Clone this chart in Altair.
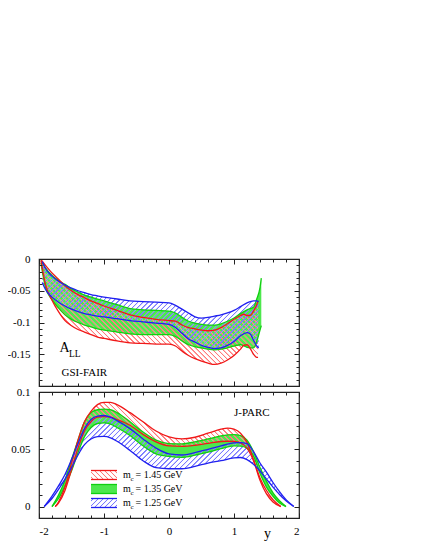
import math
import altair as alt
import pandas as pd

# ---------------- data: upper panel (GSI-FAIR), A_LL < 0 ----------------
top_red_x = [-1.97, -1.9, -1.8, -1.7, -1.6, -1.5, -1.4, -1.3, -1.2, -1.1, -1.0, -0.8, -0.6, -0.4, -0.2, 0.0,
             0.1, 0.2, 0.3, 0.4, 0.5, 0.6, 0.7, 0.8, 0.9, 1.0, 1.1, 1.15, 1.2, 1.25, 1.3, 1.35, 1.37]
top_red_hi = [-0.001, -0.010, -0.022, -0.032, -0.042, -0.050, -0.056, -0.061, -0.066, -0.070, -0.074, -0.081,
              -0.088, -0.092, -0.095, -0.097, -0.098, -0.104, -0.108, -0.110, -0.112, -0.113, -0.112, -0.108,
              -0.102, -0.095, -0.089, -0.087, -0.089, -0.089, -0.082, -0.072, -0.066]
top_red_lo = [-0.003, -0.040, -0.065, -0.083, -0.097, -0.105, -0.111, -0.115, -0.119, -0.123, -0.125, -0.129,
              -0.132, -0.133, -0.134, -0.134, -0.137, -0.145, -0.152, -0.157, -0.161, -0.164, -0.166, -0.164,
              -0.159, -0.152, -0.142, -0.136, -0.135, -0.141, -0.150, -0.155, -0.155]

top_green_x = [-1.97, -1.9, -1.8, -1.7, -1.6, -1.5, -1.4, -1.3, -1.2, -1.1, -1.0, -0.8, -0.6, -0.4, -0.2, 0.0,
               0.1, 0.2, 0.3, 0.4, 0.5, 0.6, 0.7, 0.8, 0.9, 1.0, 1.1, 1.2, 1.3, 1.35, 1.4, 1.42]
top_green_hi = [-0.002, -0.014, -0.026, -0.034, -0.040, -0.047, -0.052, -0.057, -0.060, -0.063, -0.066, -0.072,
                -0.078, -0.080, -0.081, -0.082, -0.085, -0.092, -0.098, -0.101, -0.103, -0.104, -0.104, -0.102,
                -0.098, -0.093, -0.086, -0.080, -0.076, -0.063, -0.045, -0.030]
top_green_lo = [-0.006, -0.045, -0.064, -0.077, -0.088, -0.095, -0.100, -0.104, -0.107, -0.110, -0.112, -0.115,
                -0.118, -0.119, -0.119, -0.119, -0.122, -0.129, -0.135, -0.138, -0.140, -0.142, -0.143, -0.142,
                -0.140, -0.137, -0.135, -0.139, -0.140, -0.130, -0.112, -0.105]

top_blue_x = [-1.95, -1.9, -1.8, -1.7, -1.6, -1.5, -1.4, -1.3, -1.2, -1.1, -1.0, -0.8, -0.6, -0.4, -0.2, 0.0,
              0.1, 0.2, 0.3, 0.4, 0.5, 0.6, 0.7, 0.8, 0.9, 1.0, 1.1, 1.2, 1.25, 1.3, 1.35, 1.38]
top_blue_hi = [-0.004, -0.015, -0.027, -0.035, -0.041, -0.046, -0.050, -0.053, -0.056, -0.058, -0.060, -0.063,
               -0.066, -0.067, -0.068, -0.069, -0.073, -0.079, -0.085, -0.091, -0.093, -0.092, -0.090, -0.088,
               -0.085, -0.081, -0.075, -0.069, -0.067, -0.066, -0.066, -0.067]
top_blue_lo = [-0.037, -0.048, -0.060, -0.068, -0.074, -0.079, -0.083, -0.086, -0.088, -0.090, -0.091, -0.094,
               -0.097, -0.099, -0.101, -0.103, -0.108, -0.117, -0.126, -0.131, -0.136, -0.139, -0.141, -0.140,
               -0.136, -0.130, -0.121, -0.116, -0.118, -0.128, -0.137, -0.140]

# ---------------- data: lower panel (J-PARC), A_LL > 0 ----------------
bot_red_x = [-1.75, -1.7, -1.6, -1.5, -1.4, -1.3, -1.2, -1.1, -1.0, -0.9, -0.8, -0.6, -0.4, -0.2, 0.0, 0.2,
             0.4, 0.6, 0.8, 0.9, 1.0, 1.1, 1.2, 1.3, 1.4, 1.5, 1.6, 1.72]
bot_red_hi = [0, 0.004, 0.017, 0.038, 0.058, 0.074, 0.083, 0.089, 0.091, 0.091, 0.089, 0.082, 0.074, 0.066,
              0.0608, 0.059, 0.0605, 0.064, 0.0675, 0.0684, 0.0675, 0.064, 0.056, 0.041, 0.025, 0.014, 0.006, 0]
bot_red_lo = [0, 0.003, 0.014, 0.032, 0.051, 0.066, 0.074, 0.078, 0.0785, 0.078, 0.076, 0.071, 0.063, 0.0565,
              0.053, 0.0526, 0.0535, 0.0552, 0.0568, 0.057, 0.0568, 0.0556, 0.051, 0.040, 0.023, 0.011, 0.004, 0]

bot_green_x = [-1.8, -1.7, -1.6, -1.5, -1.4, -1.3, -1.2, -1.1, -1.0, -0.9, -0.8, -0.6, -0.4, -0.2, 0.0, 0.2,
               0.4, 0.6, 0.8, 1.0, 1.1, 1.2, 1.3, 1.4, 1.5, 1.6, 1.7, 1.8]
bot_green_hi = [0, 0.010, 0.023, 0.041, 0.058, 0.074, 0.082, 0.0845, 0.085, 0.0845, 0.082, 0.074, 0.065, 0.058,
                0.055, 0.0547, 0.0565, 0.059, 0.0617, 0.0628, 0.062, 0.058, 0.048, 0.034, 0.022, 0.012, 0.005, 0]
bot_green_lo = [0, 0.007, 0.018, 0.031, 0.047, 0.061, 0.069, 0.0725, 0.073, 0.072, 0.069, 0.062, 0.053, 0.046,
                0.0438, 0.043, 0.0448, 0.0475, 0.0505, 0.053, 0.0528, 0.051, 0.044, 0.029, 0.017, 0.009, 0.003, 0]

bot_blue_x = [-1.92, -1.8, -1.7, -1.6, -1.5, -1.4, -1.3, -1.2, -1.1, -1.0, -0.9, -0.8, -0.6, -0.4, -0.2, 0.0,
              0.2, 0.4, 0.6, 0.8, 1.0, 1.1, 1.2, 1.3, 1.4, 1.5, 1.6, 1.7, 1.8, 1.92]
bot_blue_hi = [0, 0.009, 0.018, 0.028, 0.041, 0.055, 0.068, 0.076, 0.079, 0.0795, 0.078, 0.075, 0.068, 0.059,
               0.051, 0.046, 0.045, 0.047, 0.050, 0.053, 0.0555, 0.0558, 0.055, 0.048, 0.038, 0.030, 0.021, 0.013,
               0.006, 0]
bot_blue_lo = [0, 0.007, 0.015, 0.024, 0.034, 0.045, 0.054, 0.059, 0.061, 0.0612, 0.060, 0.057, 0.049, 0.040,
               0.034, 0.033, 0.033, 0.035, 0.038, 0.040, 0.0425, 0.0428, 0.041, 0.037, 0.031, 0.024, 0.017, 0.0105,
               0.005, 0]

# ---------------- ticks and texts ----------------
x_major = [-2, -1, 0, 1, 2]
x_minor = [round(-2 + 0.2 * i, 1) for i in range(21)]
top_y_major = [0, -0.05, -0.1, -0.15, -0.2]
top_y_labels = [0, -0.05, -0.1, -0.15]
top_y_minor = [round(-0.01 * i, 2) for i in range(21)]
bot_y_major = [0, 0.05, 0.1]
bot_y_labels = [0, 0.05, 0.1]
bot_y_minor = [round(-0.01 + 0.01 * i, 2) for i in range(12)]
legend_masses = ["1.45", "1.35", "1.25"]
x_title = "y"

# ---------------- layout / style ----------------
PLOT_W = 260
TOP_H = 127
BOT_H = 126
X_DOMAIN = [-2, 2]
TOP_DOMAIN = [-0.2, 0]
BOT_DOMAIN = [-0.01, 0.1]
SERIF = "Liberation Serif"
FRAME = "#222222"
RED = "#f01818"
BLUE = "#2020f0"
GREEN_LINE = "#10d010"
GREEN_FILL = "#3ee63e"
RED_HATCH = "#ff7a7a"
BLUE_HATCH = "#7a7aff"
LABEL_EXPR = "replace(format(datum.value, '~g'), '\u2212', '-')"


def hatch(color, w_px, h_px, forward, spacing=3.6, lw=0.7):
    """Diagonal stripe fill built as a linear gradient in bounding-box units."""
    d = (w_px + h_px) / math.sqrt(2)
    k = (w_px + h_px) / (w_px ** 2 + h_px ** 2)
    if forward:      # '/'
        x1, y1, x2, y2 = 0, 0, w_px * k, h_px * k
    else:            # '\'
        x1, y1, x2, y2 = 0, 1, w_px * k, 1 - h_px * k
    n = max(1, int(d / spacing))
    half = lw / d / 2
    soft = 0.5 / d
    clear = "rgba(255,255,255,0)"
    stops = []
    for i in range(n):
        o = (i + 0.5) / n
        pts = [(o - half - soft, clear), (o - half, color), (o + half, color), (o + half + soft, clear)]
        for off, c in pts:
            stops.append({"offset": round(min(1, max(0, off)), 5), "color": c})
    return {"gradient": "linear", "x1": round(x1, 5), "y1": round(y1, 5),
            "x2": round(x2, 5), "y2": round(y2, 5), "stops": stops}


def px_size(x, hi, lo, ydom, h):
    w = (max(x) - min(x)) / (X_DOMAIN[1] - X_DOMAIN[0]) * PLOT_W
    allv = list(hi) + list(lo)
    hh = (max(allv) - min(allv)) / (ydom[1] - ydom[0]) * h
    return w, hh


def x_axes(h, show_labels):
    common = dict(grid=False, domain=False, labels=False, title=None, tickColor=FRAME, tickWidth=1, zindex=1)
    if show_labels:
        lab = alt.Axis(orient="bottom", values=x_major, ticks=False, tickSize=0, domain=False, grid=False,
                       labelFont=SERIF, labelFontSize=11, labelColor="black", labelPadding=7,
                       labelExpr=LABEL_EXPR, title=x_title, titleFont=SERIF, titleFontSize=14,
                       titleFontWeight="normal", titleColor="black", titleX=228, titleY=19,
                       titleBaseline="alphabetic", titleAlign="center")
    else:
        lab = alt.Axis(orient="bottom", values=x_major, ticks=False, tickSize=0, domain=False, grid=False,
                       labels=False, title=None)
    return [lab,
            alt.Axis(orient="top", offset=-h, values=x_major, tickSize=5, **common),
            alt.Axis(orient="top", offset=-h, values=x_minor, tickSize=3, **common),
            alt.Axis(orient="bottom", offset=-h, values=x_major, tickSize=5, **common),
            alt.Axis(orient="bottom", offset=-h, values=x_minor, tickSize=3, **common)]


def y_axes(major, labels, minor):
    common = dict(grid=False, domain=False, labels=False, title=None, tickColor=FRAME, tickWidth=1, zindex=1)
    lab = alt.Axis(orient="left", values=labels, ticks=False, tickSize=0, domain=False, grid=False,
                   labelFont=SERIF, labelFontSize=11, labelColor="black", labelPadding=9,
                   labelExpr=LABEL_EXPR, title=None)
    return [lab,
            alt.Axis(orient="right", offset=-PLOT_W, values=major, tickSize=5, **common),
            alt.Axis(orient="right", offset=-PLOT_W, values=minor, tickSize=3, **common),
            alt.Axis(orient="left", offset=-PLOT_W, values=major, tickSize=5, **common),
            alt.Axis(orient="left", offset=-PLOT_W, values=minor, tickSize=3, **common)]


def panel(bands, ydom, h, xax, yax, extras):
    xs = alt.Scale(domain=X_DOMAIN, nice=False, zero=False)
    ys = alt.Scale(domain=ydom, nice=False, zero=False)
    pairs = list(zip(xax, yax))

    def nxt():
        return pairs.pop(0) if pairs else (None, None)

    layers = []
    for b in bands:
        df = pd.DataFrame({"x": b["x"], "hi": b["hi"], "lo": b["lo"]})
        xa, ya = nxt()
        layers.append(
            alt.Chart(df).mark_area(interpolate="monotone", fill=b["fill"], fillOpacity=b["opacity"],
                                    strokeWidth=0)
            .encode(x=alt.X("x:Q", scale=xs, axis=xa, title=None),
                    y=alt.Y("hi:Q", scale=ys, axis=ya, title=None),
                    y2="lo:Q"))
    for b in bands:
        df = pd.DataFrame({"x": b["x"], "hi": b["hi"], "lo": b["lo"]})
        for f in ("hi", "lo"):
            xa, ya = nxt()
            layers.append(
                alt.Chart(df).mark_line(interpolate="monotone", color=b["line"], strokeWidth=1.3)
                .encode(x=alt.X("x:Q", scale=xs, axis=xa, title=None),
                        y=alt.Y(f"{f}:Q", scale=ys, axis=ya, title=None)))
    layers += extras
    return (alt.layer(*layers)
            .resolve_axis(x="independent", y="independent")
            .properties(width=PLOT_W, height=h))


one = alt.Data(values=[{}])


def text_at(txt, x, y, size, align="left"):
    return alt.Chart(one).mark_text(text=txt, font=SERIF, fontSize=size, color="black", align=align,
                                    baseline="alphabetic").encode(x=alt.value(x), y=alt.value(y))


def make_band(x, hi, lo, dom, h, kind):
    w, hh = px_size(x, hi, lo, dom, h)
    if kind == "red":
        return dict(x=x, hi=hi, lo=lo, fill=hatch(RED_HATCH, w, hh, forward=False), opacity=1, line=RED)
    if kind == "blue":
        return dict(x=x, hi=hi, lo=lo, fill=hatch(BLUE_HATCH, w, hh, forward=True), opacity=1, line=BLUE)
    return dict(x=x, hi=hi, lo=lo, fill=GREEN_FILL, opacity=0.92, line=GREEN_LINE)


# ---- upper panel ----
top_bands = [
    make_band(top_green_x, top_green_hi, top_green_lo, TOP_DOMAIN, TOP_H, "green"),
    make_band(top_red_x, top_red_hi, top_red_lo, TOP_DOMAIN, TOP_H, "red"),
    make_band(top_blue_x, top_blue_hi, top_blue_lo, TOP_DOMAIN, TOP_H, "blue"),
]
top_extras = [
    text_at("A", 20.5, 93, 14),
    text_at("LL", 30, 98, 9.5),
    text_at("GSI-FAIR", 22.5, 117, 11),
]
top = panel(top_bands, TOP_DOMAIN, TOP_H, x_axes(TOP_H, False),
            y_axes(top_y_major, top_y_labels, top_y_minor), top_extras)

# ---- lower panel ----
bot_bands = [
    make_band(bot_green_x, bot_green_hi, bot_green_lo, BOT_DOMAIN, BOT_H, "green"),
    make_band(bot_red_x, bot_red_hi, bot_red_lo, BOT_DOMAIN, BOT_H, "red"),
    make_band(bot_blue_x, bot_blue_hi, bot_blue_lo, BOT_DOMAIN, BOT_H, "blue"),
]

bot_extras = [text_at("J-PARC", 195, 24, 11)]
sw_x0, sw_x1, sw_h = 52, 78, 9
legend_styles = [
    (hatch(RED_HATCH, 26, 9, forward=False, spacing=3.4), 1, RED),
    (GREEN_FILL, 0.92, GREEN_LINE),
    (hatch(BLUE_HATCH, 26, 9, forward=True, spacing=3.4), 1, BLUE),
]
for i, (mass, (fill, op, lc)) in enumerate(zip(legend_masses, legend_styles)):
    ytop = 78.5 + 14 * i
    bot_extras.append(alt.Chart(one).mark_rect(fill=fill, fillOpacity=op, strokeWidth=0)
                      .encode(x=alt.value(sw_x0), x2=alt.value(sw_x1), y=alt.value(ytop), y2=alt.value(ytop + sw_h)))
    for yy in (ytop, ytop + sw_h):
        bot_extras.append(alt.Chart(one).mark_rule(color=lc, strokeWidth=1.3)
                          .encode(x=alt.value(sw_x0), x2=alt.value(sw_x1), y=alt.value(yy)))
    base = ytop + 7.5
    bot_extras.append(text_at("m", 84, base, 10))
    bot_extras.append(text_at("c", 91.5, base + 2.5, 7))
    bot_extras.append(text_at(f"= {mass} GeV", 96.5, base, 10))

bottom = panel(bot_bands, BOT_DOMAIN, BOT_H, x_axes(BOT_H, True),
               y_axes(bot_y_major, bot_y_labels, bot_y_minor), bot_extras)

chart = (alt.vconcat(top, bottom, spacing=6, bounds="flush")
         .properties(padding={"top": 244, "left": -2, "right": 0, "bottom": 0}, background="white")
         .configure_view(stroke=FRAME, strokeWidth=1.2))

chart.save("out.html", embed_options={"renderer": "svg", "actions": False})
